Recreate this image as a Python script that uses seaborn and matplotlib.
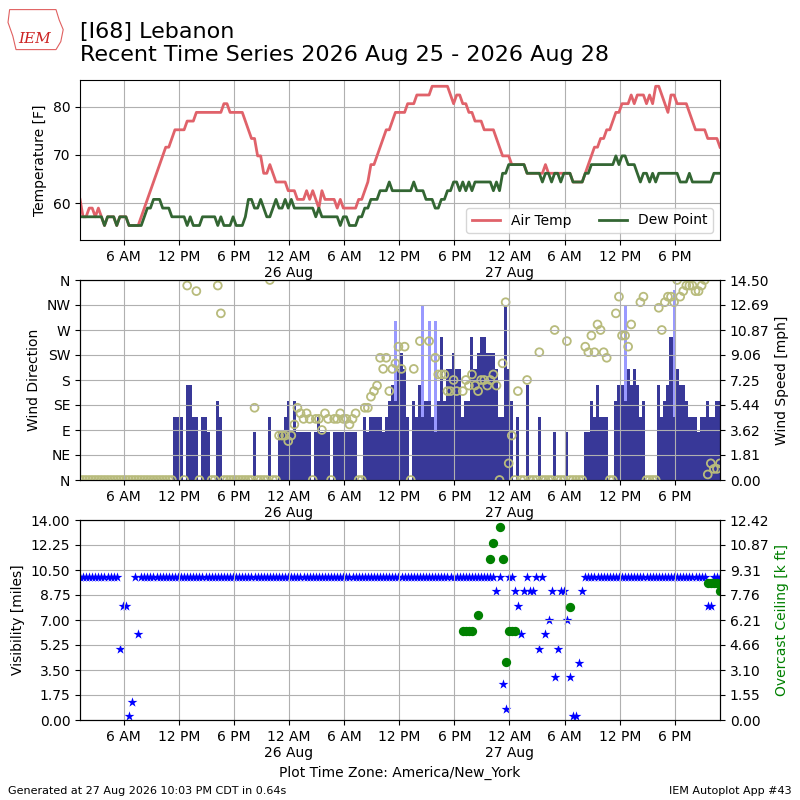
import numpy as np
import pandas as pd
import matplotlib
matplotlib.use("Agg")
import matplotlib.pyplot as plt
import matplotlib.dates as mdates
from matplotlib.ticker import FixedLocator, FixedFormatter, FuncFormatter
import seaborn as sns

nan = np.nan

# one report every 20 minutes, local New York time
obs_start = "2026-08-25 01:15"

# air temperature [F]
tmpf = [
    60.8, 57.2, 57.2, 59.0, 59.0, 57.2, 59.0, 57.2, 55.4, 57.2,
    57.2, 57.2, 55.4, 57.2, 57.2, 57.2, 55.4, 55.4, 55.4, 55.4,
    57.2, 59.0, 60.8, 62.6, 64.4, 66.2, 68.0, 69.8, 71.6, 71.6,
    73.4, 75.2, 75.2, 75.2, 75.2, 77.0, 77.0, 77.0, 78.8, 78.8,
    78.8, 78.8, 78.8, 78.8, 78.8, 78.8, 78.8, 80.6, 80.6, 78.8,
    78.8, 78.8, 78.8, 78.8, 77.0, 75.2, 73.4, 73.4, 69.8, 69.8,
    66.2, 66.2, 68.0, 66.2, 64.4, 64.4, 64.4, 64.4, 62.6, 62.6,
    62.6, 60.8, 60.8, 60.8, 62.6, 60.8, 62.6, 60.8, 59.0, 62.6,
    60.8, 60.8, 60.8, 60.8, 59.0, 60.8, 59.0, 59.0, 59.0, 59.0,
    59.0, 60.8, 60.8, 62.6, 64.4, 68.0, 68.0, 69.8, 71.6, 73.4,
    75.2, 75.2, 77.0, 78.8, 78.8, 78.8, 78.8, 80.6, 80.6, 80.6,
    82.4, 82.4, 82.4, 82.4, 82.4, 84.2, 84.2, 84.2, 84.2, 84.2,
    84.2, 82.4, 80.6, 82.4, 82.4, 80.6, 80.6, 78.8, 78.8, 77.0,
    77.0, 77.0, 75.2, 75.2, 75.2, 75.2, 73.4, 71.6, 69.8, 69.8,
    69.8, 68.0, 68.0, 68.0, 68.0, 68.0, 66.2, 66.2, 66.2, 66.2,
    66.2, 66.2, 68.0, 66.2, 66.2, 66.2, 66.2, 66.2, 66.2, 66.2,
    66.2, 64.4, 64.4, 64.4, 64.4, 66.2, 68.0, 69.8, 71.6, 71.6,
    73.4, 73.4, 75.2, 75.2, 77.0, 78.8, 78.8, 80.6, 80.6, 80.6,
    82.4, 80.6, 82.4, 82.4, 82.4, 80.6, 82.4, 80.6, 84.2, 84.2,
    82.4, 80.6, 78.8, 82.4, 82.4, 80.6, 80.6, 80.6, 80.6, 78.8,
    77.0, 75.2, 75.2, 75.2, 75.2, 73.4, 73.4, 73.4, 73.4, 71.6,
]

# dew point [F]
dwpf = [
    57.2, 57.2, 57.2, 57.2, 57.2, 57.2, 57.2, 57.2, 55.4, 57.2,
    57.2, 57.2, 55.4, 57.2, 57.2, 57.2, 55.4, 55.4, 55.4, 55.4,
    55.4, 57.2, 59.0, 59.0, 60.8, 60.8, 60.8, 59.0, 59.0, 59.0,
    57.2, 57.2, 57.2, 57.2, 57.2, 55.4, 57.2, 55.4, 55.4, 55.4,
    57.2, 57.2, 57.2, 57.2, 57.2, 55.4, 57.2, 55.4, 55.4, 55.4,
    57.2, 55.4, 55.4, 55.4, 57.2, 60.8, 60.8, 59.0, 59.0, 60.8,
    59.0, 57.2, 57.2, 59.0, 60.8, 59.0, 59.0, 60.8, 59.0, 60.8,
    59.0, 59.0, 59.0, 59.0, 59.0, 59.0, 59.0, 57.2, 59.0, 57.2,
    57.2, 57.2, 57.2, 57.2, 57.2, 55.4, 57.2, 57.2, 55.4, 55.4,
    55.4, 57.2, 57.2, 59.0, 59.0, 60.8, 60.8, 60.8, 62.6, 62.6,
    62.6, 64.4, 62.6, 62.6, 62.6, 62.6, 62.6, 62.6, 62.6, 64.4,
    62.6, 62.6, 62.6, 60.8, 60.8, 60.8, 59.0, 59.0, 60.8, 60.8,
    62.6, 62.6, 64.4, 64.4, 62.6, 64.4, 62.6, 64.4, 62.6, 64.4,
    64.4, 64.4, 64.4, 64.4, 64.4, 62.6, 64.4, 62.6, 66.2, 66.2,
    68.0, 68.0, 68.0, 68.0, 68.0, 68.0, 66.2, 66.2, 66.2, 66.2,
    66.2, 64.4, 66.2, 66.2, 64.4, 66.2, 66.2, 64.4, 66.2, 66.2,
    66.2, 64.4, 64.4, 64.4, 64.4, 66.2, 66.2, 68.0, 68.0, 68.0,
    68.0, 68.0, 68.0, 68.0, 68.0, 69.8, 68.0, 69.8, 69.8, 68.0,
    68.0, 68.0, 66.2, 64.4, 66.2, 66.2, 64.4, 66.2, 64.4, 66.2,
    66.2, 66.2, 66.2, 66.2, 66.2, 66.2, 64.4, 64.4, 64.4, 66.2,
    64.4, 64.4, 64.4, 64.4, 64.4, 64.4, 64.4, 66.2, 66.2, 66.2,
]

# sustained wind speed [mph]
sped = [
    0, 0, 0, 0, 0, 0, 0, 0, 0, 0,
    0, 0, 0, 0, 0, 0, 0, 0, 0, 0,
    0, 0, 0, 0, 0, 0, 0, 0, 0, 0,
    0, 4.6, 4.6, 4.6, 0, 6.9, 6.9, 4.6, 4.6, 0,
    4.6, 4.6, 3.45, 0, 0, 5.75, 4.6, 0, 0, 0,
    0, 0, 0, 0, 0, 0, 0, 3.45, 0, 0,
    0, 0, 4.6, 0, 0, 3.45, 3.45, 4.6, 5.75, 3.45,
    5.75, 3.45, 3.45, 3.45, 3.45, 3.45, 0, 3.45, 4.6, 3.45,
    3.45, 3.45, 0, 3.45, 3.45, 3.45, 3.45, 3.45, 3.45, 3.45,
    3.45, 0, 0, 4.6, 3.45, 4.6, 4.6, 4.6, 4.6, 3.45,
    4.6, 5.75, 6.9, 5.75, 8.06, 9.21, 8.06, 4.6, 0, 5.75,
    4.6, 6.9, 4.6, 5.75, 5.75, 4.6, 3.45, 5.75, 10.36, 5.75,
    8.06, 8.06, 9.21, 8.06, 8.06, 4.6, 5.75, 5.75, 10.36, 8.06,
    9.21, 10.36, 10.36, 9.21, 9.21, 9.21, 8.06, 4.6, 4.6, 12.66,
    8.06, 5.75, 0, 4.6, 0, 0, 6.9, 0, 0, 0,
    4.6, 0, 0, 0, 0, 3.45, 0, 0, 0, 3.45,
    0, 0, 0, 0, 0, 3.45, 3.45, 5.75, 4.6, 6.9,
    4.6, 4.6, 4.6, 0, 0, 5.75, 6.9, 6.9, 5.75, 8.06,
    6.9, 8.06, 6.9, 4.6, 5.75, 0, 0, 0, 0, 6.9,
    4.6, 5.75, 6.9, 10.36, 4.6, 8.06, 6.9, 6.9, 5.75, 4.6,
    4.6, 4.6, 3.45, 4.6, 4.6, 5.75, 4.6, 4.6, 5.75, 5.75,
]

# wind direction [deg], nan where no circle is drawn
drct = [
    0, 0, 0, 0, 0, 0, 0, 0, 0, 0,
    0, 0, 0, 0, 0, 0, 0, 0, 0, 0,
    0, 0, 0, 0, 0, 0, 0, 0, 0, 0,
    0, nan, nan, nan, 0, 350, nan, nan, 340, 0,
    nan, nan, nan, 0, 0, 350, 300, 0, 0, 0,
    0, 0, 0, 0, 0, 0, 0, 130, 0, 0,
    0, 0, 360, 0, 0, 80, 80, 80, 70, 80,
    100, 130, 120, 110, 120, 110, 0, 110, 110, 90,
    120, 110, 0, 110, 110, 120, 110, 110, 100, 110,
    120, 0, 0, 130, 130, 150, 160, 170, 220, 200,
    220, 160, 200, 210, 240, 200, 240, nan, 0, 200,
    nan, 250, nan, nan, 250, nan, 220, 190, 190, 190,
    160, 160, 180, 160, nan, 160, 180, 170, 190, 170,
    160, 180, 180, 170, 180, 190, 170, 0, 210, 320,
    30, 80, 0, 160, 0, 0, 180, 0, 0, 0,
    230, 0, 0, 0, 0, 270, 0, 0, 0, 250,
    0, 0, 0, 0, 0, 240, 230, 260, 230, 280,
    270, 230, 220, 0, 0, 300, 330, 260, 260, 240,
    280, nan, nan, 320, 330, 0, 0, 0, 0, 310,
    270, 320, 330, 330, 320, 360, 330, 340, 350, 350,
    350, 340, 340, 350, 360, 10, 30, 20, 20, 30,
]

# visibility [miles]
vsby = [
    10, 10, 10, 10, 10, 10, 10, 10, 10, 10,
    10, 10, 10, 5, 8, 8, 0.25, 1.25, 10, 6,
    10, 10, 10, 10, 10, 10, 10, 10, 10, 10,
    10, 10, 10, 10, 10, 10, 10, 10, 10, 10,
    10, 10, 10, 10, 10, 10, 10, 10, 10, 10,
    10, 10, 10, 10, 10, 10, 10, 10, 10, 10,
    10, 10, 10, 10, 10, 10, 10, 10, 10, 10,
    10, 10, 10, 10, 10, 10, 10, 10, 10, 10,
    10, 10, 10, 10, 10, 10, 10, 10, 10, 10,
    10, 10, 10, 10, 10, 10, 10, 10, 10, 10,
    10, 10, 10, 10, 10, 10, 10, 10, 10, 10,
    10, 10, 10, 10, 10, 10, 10, 10, 10, 10,
    10, 10, 10, 10, 10, 10, 10, 10, 10, 10,
    10, 10, 10, 10, 10, 10, 9, 10, 2.5, 0.75,
    10, 10, 9, 8, 6, 9, 10, 9, 9, 10,
    5, 10, 6, 7, 9, 3, 5, 9, 9, 7,
    3, 0.25, 0.25, 4, 9, 10, 10, 10, 10, 10,
    10, 10, 10, 10, 10, 10, 10, 10, 10, 10,
    10, 10, 10, 10, 10, 10, 10, 10, 10, 10,
    10, 10, 10, 10, 10, 10, 10, 10, 10, 10,
    10, 10, 10, 10, 10, 8, 8, 10, 10, 10,
]

gust_times = ["2026-08-26 11:35", "2026-08-26 14:35", "2026-08-26 15:15",
              "2026-08-26 15:55", "2026-08-27 12:35", "2026-08-27 17:55"]
gust_mph = [11.51, 12.66, 11.51, 11.51, 12.66, 13.81]

ceil_times = ["2026-08-26 18:55", "2026-08-26 19:15", "2026-08-26 19:35",
              "2026-08-26 19:55", "2026-08-26 20:35", "2026-08-26 21:55",
              "2026-08-26 22:15", "2026-08-26 22:55", "2026-08-26 23:15",
              "2026-08-26 23:35", "2026-08-26 23:55", "2026-08-27 00:15",
              "2026-08-27 00:35", "2026-08-27 06:35", "2026-08-27 21:35",
              "2026-08-27 21:55", "2026-08-27 22:15", "2026-08-27 22:35",
              "2026-08-27 22:55"]
ceil_kft = [5.5, 5.5, 5.5, 5.5, 6.5, 10.0, 11.0, 12.0, 10.0, 3.6,
            5.5, 5.5, 5.5, 7.0, 8.5, 8.5, 8.5, 8.5, 8.0]

temp_ticks = [60, 70, 80]
drct_labels = ["N", "NE", "E", "SE", "S", "SW", "W", "NW", "N"]
speed_labels = ["0.00", "1.81", "3.62", "5.44", "7.25", "9.06", "10.87", "12.69", "14.50"]
vsby_labels = ["0.00", "1.75", "3.50", "5.25", "7.00", "8.75", "10.50", "12.25", "14.00"]
ceil_labels = ["0.00", "1.55", "3.10", "4.66", "6.21", "7.76", "9.31", "10.87", "12.42"]

valid = pd.date_range(obs_start, periods=len(tmpf), freq="20min")
gust_valid = pd.to_datetime(gust_times)
ceil_valid = pd.to_datetime(ceil_times)


def time_label(x, pos):
    dt = mdates.num2date(x)
    if dt.hour == 0:
        return "12 AM\n" + dt.strftime("%d %b")
    h = dt.hour % 12 or 12
    return "%d %s" % (h, "AM" if dt.hour < 12 else "PM")


def style_time(ax):
    ax.xaxis.set_major_locator(mdates.HourLocator(byhour=[0, 6, 12, 18]))
    ax.xaxis.set_major_formatter(FuncFormatter(time_label))
    ax.set_xlim(valid[0], valid[-1])
    ax.grid(True)


fig = plt.figure(figsize=(8, 8), dpi=100)

# temperature panel
ax1 = fig.add_axes([0.1, 0.7, 0.8, 0.2])
sns.lineplot(x=valid, y=tmpf, ax=ax1, color="#e0626a", lw=2, label="Air Temp")
sns.lineplot(x=valid, y=dwpf, ax=ax1, color="#336633", lw=2, label="Dew Point")
ax1.set_ylim(52.4, 85.5)
ax1.set_yticks(temp_ticks)
ax1.set_ylabel("Temperature [F]")
ax1.set_xlabel("")
style_time(ax1)
ax1.legend(loc="lower right", ncol=2)

# wind panel
ax2 = fig.add_axes([0.1, 0.4, 0.8, 0.25])
ax2b = ax2.twinx()
bar_w = 1 / 72.0
ax2b.bar(gust_valid, gust_mph, width=bar_w, color="#9999ff", lw=0)
ax2b.bar(valid, sped, width=bar_w, color="#383898", lw=0)
ax2b.set_ylim(0, 14.5)
ax2b.yaxis.set_major_locator(FixedLocator(np.linspace(0, 14.5, 9)))
ax2b.yaxis.set_major_formatter(FixedFormatter(speed_labels))
ax2b.set_ylabel("Wind Speed [mph]")
sns.scatterplot(x=valid, y=drct, ax=ax2, marker="o", s=32,
                facecolor="none", edgecolor="#b8bb7c", linewidth=1.3)
ax2.set_zorder(ax2b.get_zorder() + 1)
ax2.patch.set_visible(False)
ax2.set_ylim(0, 360)
ax2.set_yticks(np.arange(0, 361, 45))
ax2.set_yticklabels(drct_labels)
ax2.set_ylabel("Wind Direction")
style_time(ax2)
ax2.set_xlabel("")
ax2b.set_xlabel("")

# visibility / ceiling panel
ax3 = fig.add_axes([0.1, 0.1, 0.8, 0.25])
sns.scatterplot(x=valid, y=vsby, ax=ax3, marker="*", s=55, color="blue",
                edgecolor="blue", linewidth=0)
ax3.set_ylim(0, 14)
ax3.yaxis.set_major_locator(FixedLocator(np.linspace(0, 14, 9)))
ax3.yaxis.set_major_formatter(FixedFormatter(vsby_labels))
ax3.set_ylabel("Visibility [miles]")
style_time(ax3)
ax3b = ax3.twinx()
sns.scatterplot(x=ceil_valid, y=ceil_kft, ax=ax3b, marker="o", s=45,
                color="green", linewidth=0)
ax3b.set_ylim(0, 12.42)
ax3b.yaxis.set_major_locator(FixedLocator(np.linspace(0, 12.42, 9)))
ax3b.yaxis.set_major_formatter(FixedFormatter(ceil_labels))
ax3b.set_ylabel("Overcast Ceiling [k ft]", color="green")
ax3b.set_xlabel("")
ax3b.set_xlim(valid[0], valid[-1])
ax3.set_xlabel("Plot Time Zone: America/New_York")

# title block and a rough stand-in for the IEM logo
fig.text(0.1, 0.973, "[I68] Lebanon\nRecent Time Series 2026 Aug 25 - 2026 Aug 28",
         va="top", ha="left", fontsize=16)
logo = plt.Polygon([(0.012, 0.988), (0.07, 0.988), (0.074, 0.975), (0.079, 0.963),
                    (0.076, 0.948), (0.07, 0.938), (0.02, 0.938), (0.016, 0.955),
                    (0.01, 0.972)], closed=True, fill=False, edgecolor="#e06060",
                   lw=0.8, transform=fig.transFigure)
fig.add_artist(logo)
fig.text(0.043, 0.951, "IEM", color="#cc2222", fontsize=11, style="italic",
         family="serif", ha="center", va="center")
fig.text(0.01, 0.008, "Generated at 27 Aug 2026 10:03 PM CDT in 0.64s", fontsize=8)
fig.text(0.99, 0.008, "IEM Autoplot App #43", fontsize=8, ha="right")

fig.savefig("out.png", dpi=100)
